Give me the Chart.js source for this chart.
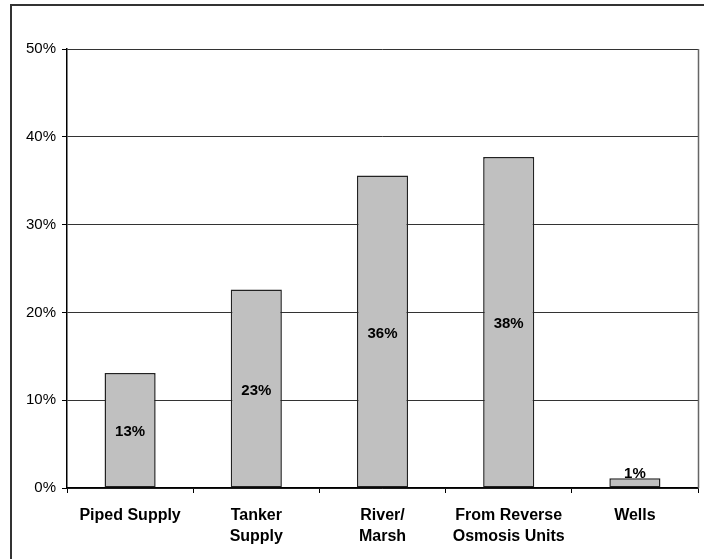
<!DOCTYPE html>
<html>
<head>
<meta charset="utf-8">
<script src="https://cdn.jsdelivr.net/npm/chart.js@4/dist/chart.umd.min.js"></script>
<style>
html,body{margin:0;padding:0;background:#fff;}
#wrap{width:704px;height:559px;position:relative;}
</style>
</head>
<body>
<div id="wrap"><canvas id="c" width="704" height="559"></canvas></div>
<script>
const categories = [["Piped Supply"], ["Tanker", "Supply"], ["River/", "Marsh"], ["From Reverse", "Osmosis Units"], ["Wells"]];
const values = [13.1, 22.6, 35.6, 37.7, 1.1];
const valueLabels = ["13%", "23%", "36%", "38%", "1%"];
const yTicks = [0, 10, 20, 30, 40, 50];

const FONT = "'Liberation Sans', Arial, sans-serif";

const framePlugin = {
  id: 'frame',
  beforeDraw(chart) {
    const ctx = chart.ctx;
    ctx.save();
    ctx.fillStyle = '#fff';
    ctx.fillRect(0, 0, chart.width, chart.height);
    ctx.strokeStyle = '#333';
    ctx.lineWidth = 2;
    ctx.beginPath();
    ctx.moveTo(11, 559);
    ctx.lineTo(11, 5);
    ctx.lineTo(704, 5);
    ctx.stroke();
    ctx.restore();
  },
  afterDraw(chart) {
    const a = chart.chartArea;
    const ctx = chart.ctx;
    ctx.save();
    ctx.strokeStyle = '#666';
    ctx.lineWidth = 1.5;
    ctx.beginPath();
    ctx.moveTo(Math.round(a.right) + 0.5, a.top);
    ctx.lineTo(Math.round(a.right) + 0.5, a.bottom);
    ctx.stroke();
    ctx.restore();
  }
};

const labelPlugin = {
  id: 'barLabels',
  afterDatasetsDraw(chart) {
    const ctx = chart.ctx;
    const meta = chart.getDatasetMeta(0);
    ctx.save();
    ctx.font = "bold 15px " + FONT;
    ctx.fillStyle = '#000';
    ctx.textAlign = 'center';
    ctx.textBaseline = 'middle';
    meta.data.forEach((bar, i) => {
      let y = (bar.y + bar.base) / 2 + 2;
      y = Math.min(y, bar.base - 14);
      ctx.fillText(valueLabels[i], bar.x, y);
    });
    ctx.restore();
  }
};

new Chart(document.getElementById('c'), {
  type: 'bar',
  data: {
    labels: categories,
    datasets: [{
      data: values,
      backgroundColor: '#c0c0c0',
      borderColor: '#222',
      borderWidth: 1.5,
      borderSkipped: false,
      barPercentage: 0.405,
      categoryPercentage: 1
    }]
  },
  options: {
    responsive: false,
    animation: false,
    devicePixelRatio: 1,
    layout: { padding: { left: 0, top: 49, right: 6, bottom: 0 } },
    plugins: { legend: { display: false }, tooltip: { enabled: false } },
    scales: {
      x: {
        offset: true,
        grid: { offset: true, drawOnChartArea: false, tickLength: 5, tickColor: '#000', color: '#000' },
        border: { color: '#000', width: 1.5 },
        ticks: { color: '#000', font: { family: FONT, size: 16, weight: 'bold', lineHeight: 1.3 }, padding: 12, maxRotation: 0, autoSkip: false },
        afterFit(scale) { scale.height = 71; }
      },
      y: {
        min: 0, max: 50,
        afterBuildTicks(scale) { scale.ticks = yTicks.map(v => ({ value: v })); },
        grid: { color: '#333', tickLength: 5, tickColor: '#000', lineWidth: 1 },
        border: { color: '#000', width: 1.5 },
        ticks: { color: '#000', font: { family: FONT, size: 15 }, padding: 6, callback: v => v + '%' },
        afterFit(scale) { scale.width = 67; }
      }
    }
  },
  plugins: [framePlugin, labelPlugin]
});
</script>
</body>
</html>
